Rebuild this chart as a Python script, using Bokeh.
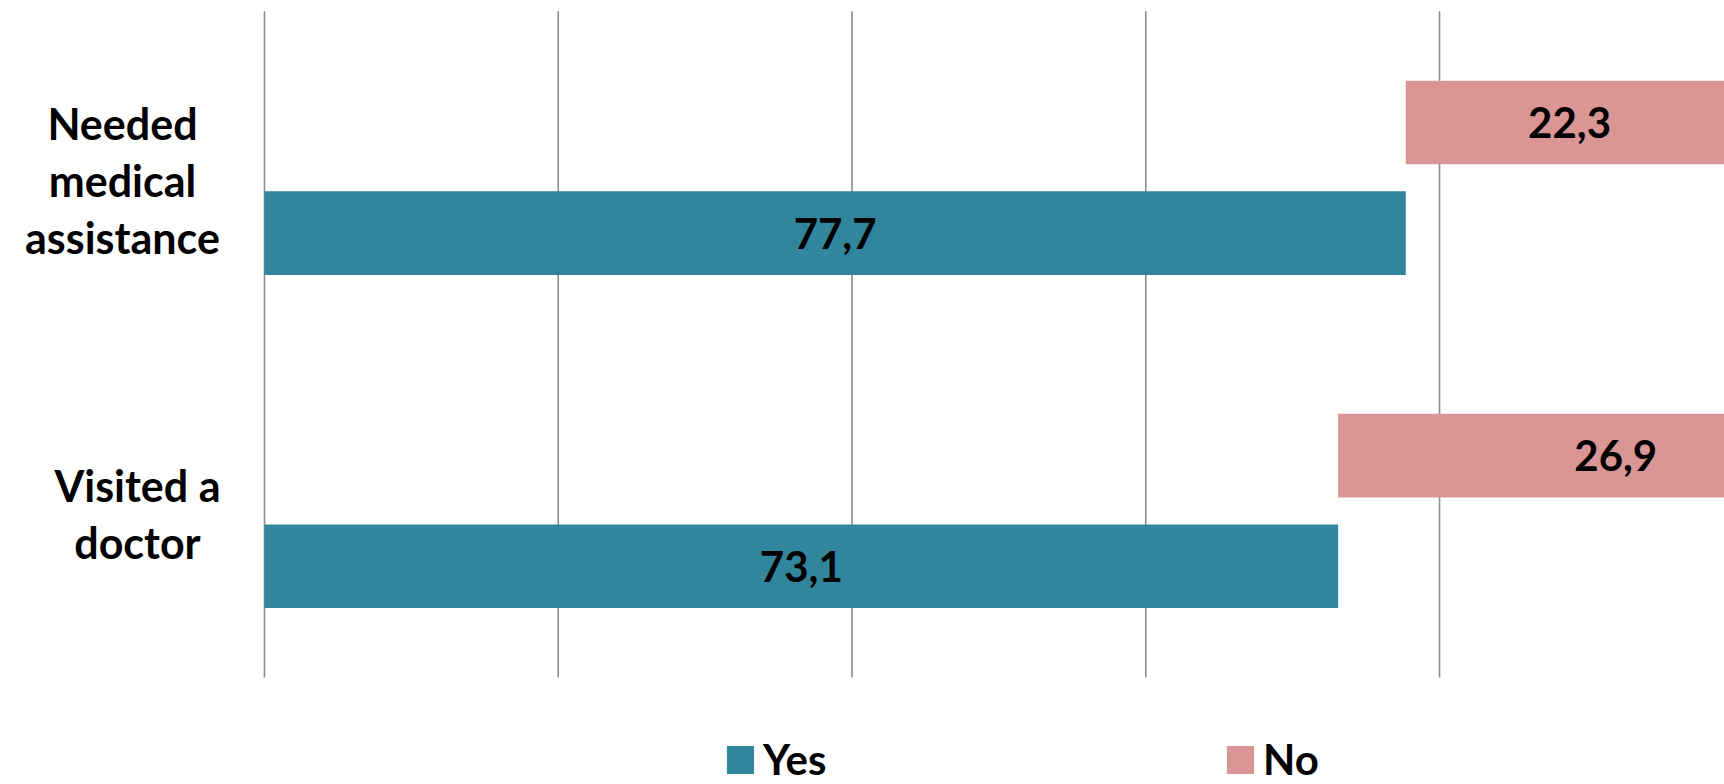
from bokeh.plotting import figure
from bokeh.models import ColumnDataSource, Range1d, Legend, LegendItem
from bokeh.core.properties import value
from bokeh.embed import file_html
from bokeh.resources import INLINE

# ---------------- data ----------------
categories = ["Needed medical assistance", "Visited a doctor"]
category_lines = [["Needed", "medical", "assistance"], ["Visited a", "doctor"]]
yes_values = [77.7, 73.1]
no_values = [22.3, 26.9]
series_names = ["Yes", "No"]
grid_ticks = [0, 20, 40, 60, 80]

# ---------------- style ----------------
TEAL = "#31859C"
PINK = "#D99694"
GRID = "#8C8C8C"
FONT = "Lato"
W, H = 1724, 784

fmt = lambda v: f"{v:.1f}".replace(".", ",")
n = len(categories)
pos = [n - 1 - i for i in range(n)]   # first category on top

p = figure(width=W, height=H, output_backend="svg", toolbar_location=None,
           x_axis_type=None, y_axis_type=None,
           x_range=Range1d(-17.97, 99.40),
           y_range=Range1d(-0.8213, 1.5324),
           min_border_left=0, min_border_right=0, min_border_top=0, min_border_bottom=0)
p.outline_line_color = None
p.background_fill_color = "white"
p.border_fill_color = "white"

# vertical grid lines spanning the category band
p.segment(x0=grid_ticks, x1=grid_ticks, y0=[-0.5] * len(grid_ticks),
          y1=[n - 0.5] * len(grid_ticks), line_color=GRID, line_width=1.6)

BAR_H = 0.251
OFF = 0.166

src = ColumnDataSource(dict(
    cat=categories,
    y_yes=[y - OFF for y in pos],
    y_no=[y + OFF for y in pos],
    yes=yes_values,
    no=no_values,
    total=[a + b for a, b in zip(yes_values, no_values)],
    yes_mid=[a / 2 for a in yes_values],
    no_mid=[a + b / 2 for a, b in zip(yes_values, no_values)],
    yes_lbl=[fmt(v) for v in yes_values],
    no_lbl=[fmt(v) for v in no_values],
    no_nudge=[0, 80],
))

r_yes = p.hbar(y="y_yes", left=0, right="yes", height=BAR_H, source=src,
               fill_color=TEAL, line_color=None)
r_no = p.hbar(y="y_no", left="yes", right="total", height=BAR_H, source=src,
              fill_color=PINK, line_color=None)

p.text(x="yes_mid", y="y_yes", text="yes_lbl", source=src,
       text_align="center", text_baseline="middle", text_font=value(FONT),
       text_font_style="bold", text_font_size="42px", text_color="black")
p.text(x="no_mid", y="y_no", text="no_lbl", source=src,
       x_offset="no_nudge", text_align="center", text_baseline="middle",
       text_font=value(FONT), text_font_style="bold", text_font_size="42px",
       text_color="black")

# category labels (multi-line, centred in a block right-aligned next to the axis)
cx_offsets = [-142, -127]
lx, ly, lt, lyo, lxo = [], [], [], [], []
LINE = 57
for y, lines, xo in zip(pos, category_lines, cx_offsets):
    m = len(lines)
    for i, t in enumerate(lines):
        lx.append(0)
        ly.append(y)
        lt.append(t)
        lyo.append((i - (m - 1) / 2) * LINE + 3)
        lxo.append(xo)
lsrc = ColumnDataSource(dict(x=lx, y=ly, t=lt, yo=lyo, xo=lxo))
p.text(x="x", y="y", text="t", x_offset="xo", y_offset="yo", source=lsrc,
       text_align="center", text_baseline="middle", text_font=value(FONT),
       text_font_style="bold", text_font_size="43px", text_color="black")

legend = Legend(items=[LegendItem(label=series_names[0], renderers=[r_yes]),
                       LegendItem(label=series_names[1], renderers=[r_no])],
                orientation="horizontal", location=(723, 0),
                glyph_width=34, glyph_height=35, label_height=35, label_width=100,
                label_standoff=6, spacing=360, padding=0, margin=0,
                border_line_color=None, background_fill_alpha=0,
                label_text_font=FONT, label_text_font_style="bold",
                label_text_font_size="42px", label_text_color="black",
                label_text_baseline="middle")
p.add_layout(legend)

open("out.html", "w").write(file_html(p, INLINE))
